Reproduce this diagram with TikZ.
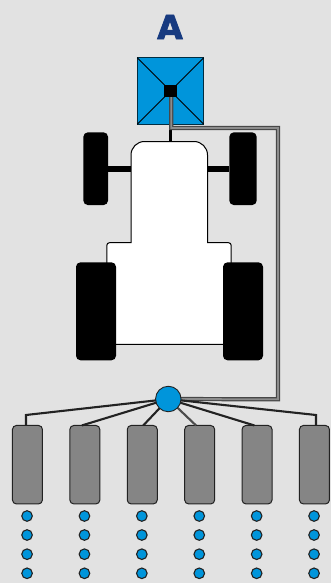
\documentclass[tikz,border=0pt]{standalone}
\usepackage{fontspec}
\setmainfont{DejaVu Sans}
\newfontfamily\titlefont[FakeBold=2.6]{DejaVu Sans Bold}
\usetikzlibrary{calc}
\definecolor{bgc}{HTML}{E2E2E2}
\definecolor{hubblue}{HTML}{0095DB}
\definecolor{titleblue}{HTML}{173A80}
\definecolor{edge}{HTML}{222222}
\tikzset{
  every node/.style={inner sep=0pt,outer sep=0pt},
  barbox/.style={draw=edge,line width=1pt,fill=black!48,rounded corners=4pt,minimum width=30pt,minimum height=78.5pt},
  sensor/.style={circle,draw=edge,line width=1.1pt,fill=hubblue,minimum size=10.6pt},
  wheel/.style={fill=black,rounded corners=4.5pt},
  feed/.style={draw=edge,line width=2.1pt},
  pipeouter/.style={draw=black!72,line width=4.2pt,line join=miter},
  pipeinner/.style={draw=black!45,line width=1.8pt,line join=miter},
}
\begin{document}
\begin{tikzpicture}[x=1pt,y=-1pt]
\useasboundingbox (0,0) rectangle (331,583);
\fill[bgc] (0,0) rectangle (331,583);
% title
\node[text=titleblue,font=\titlefont\fontsize{33}{33}\selectfont] (title) at (170,27) {A};
% tractor
\coordinate (bodytop) at (170.4,141.5);
\draw[black,line width=1pt,fill=white]
  (131,242.7)
  [rounded corners=13.5pt] -- (131,141.5) -- (207.5,141.5) [sharp corners] -- (207.5,242.7)
  [rounded corners=2.7pt] -- (231.2,242.7) [sharp corners] -- (231.2,344.4) -- (106.8,344.4)
  [rounded corners=2.7pt] -- (106.8,242.7) [sharp corners] -- cycle;
\node[wheel,minimum width=24.7pt,minimum height=72.7pt] (fl) at (95.7,168.7) {};
\node[wheel,minimum width=27.4pt,minimum height=72.7pt] (fr) at (243,168.7) {};
\draw[black,line width=6pt] (fl.east) -- (131,168.7) (207.5,168.7) -- (fr.west);
\node[wheel,minimum width=40pt,minimum height=98pt] (rl) at (96,311.3) {};
\node[wheel,minimum width=40pt,minimum height=98pt] (rr) at (243,311.3) {};
% hopper
\node[draw=black!70!hubblue,line width=1.1pt,fill=hubblue,minimum size=66.5pt] (hopper) at (170.4,91) {};
\draw[black,line width=0.9pt] (hopper.north west) -- (hopper.south east) (hopper.north east) -- (hopper.south west);
\draw[black,line width=2.8pt] (hopper.south) -- (bodytop);
% hub and pipe
\coordinate (hubc) at (168.3,399);
\coordinate (c1) at (171.2,128);
\coordinate (c2) at (278,128);
\coordinate (c3) at (278,399.3);
\draw[pipeouter] (171.2,97) -- (c1) -- (c2) -- (c3) -- (hubc);
\draw[pipeinner] (171.2,97) -- (c1) -- (c2) -- (c3) -- (hubc);
% black square
\node[fill=black,minimum size=12.6pt] (valve) at (170.4,91) {};
% bars
\foreach \i/\x in {1/27.45,2/84.85,3/142.25,4/199.65,5/257.05,6/314.45}{
  \node[barbox] (b\i) at (\x,464.7) {};
  \node[sensor] (s\i a) at (\x-0.4,516) {};
  \node[sensor] (s\i b) at (\x-0.4,535) {};
  \node[sensor] (s\i c) at (\x-0.4,554.2) {};
  \node[sensor] (s\i d) at (\x-0.4,573.3) {};
}
% connectors
\coordinate (k1) at (26,415);
\coordinate (k6) at (316,415);
\draw[feed,line join=miter] (hubc) -- (k1) -- (k1 |- b1.north);
\draw[feed] (hubc) -- ([xshift=-3pt]b2.north);
\draw[feed] (hubc) -- ([xshift=1pt]b3.north);
\draw[feed,draw=black!70] (hubc) -- ([xshift=-3.6pt]b4.north);
\draw[feed] (hubc) -- ([xshift=-2.7pt]b5.north);
\draw[feed,line join=miter] (hubc) -- (k6) -- (k6 |- b6.north);
\node[circle,draw=edge,line width=0.9pt,fill=hubblue,minimum size=25.5pt] (hub) at (hubc) {};
\end{tikzpicture}
\end{document}
